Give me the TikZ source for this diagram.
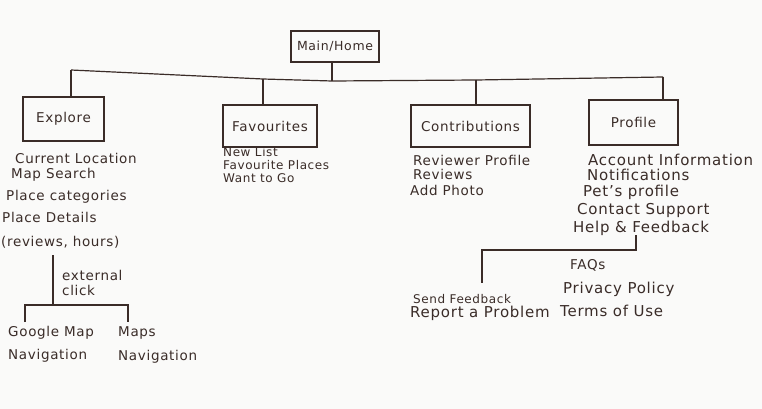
\documentclass[tikz,border=0pt]{standalone}
\usepackage{fontspec}
\setmainfont{DejaVu Sans}[LetterSpace=5]
\definecolor{ink}{RGB}{58,44,40}
\definecolor{paper}{RGB}{250,250,249}

\tikzset{
  pagebox/.style={draw=ink, line width=1.2pt, text=ink, inner sep=0pt,
    font=\fontsize{13.5}{15}\selectfont},
  item/.style={anchor=west, text=ink, inner sep=0pt, font=\fontsize{13.5}{15}\selectfont},
  bigitem/.style={item, font=\fontsize{15}{17}\selectfont},
  smallitem/.style={item, font=\fontsize{12}{13}\selectfont},
  link/.style={draw=ink, line width=1.2pt},
}

\begin{document}
\begin{tikzpicture}[x=1pt, y=-1pt]
    % paper
    \fill[paper] (0,0) rectangle (762,409);
    \useasboundingbox (0,0) rectangle (762,409);

    % top level pages
    \node[pagebox, font=\fontsize{12.5}{14}\selectfont, minimum width=88pt, minimum height=31pt] (home) at (335,46.5) {Main/Home};
    \node[pagebox, minimum width=81pt, minimum height=44pt] (explore) at (63.5,119) {Explore};
    \node[pagebox, minimum width=94pt, minimum height=42pt] (fav) at (270,126) {Favourites};
    \node[pagebox, minimum width=119pt, minimum height=42pt] (contrib) at (470.5,126) {Contributions};
    \node[pagebox, minimum width=89pt, minimum height=45pt] (profile) at (633.5,122.5) {Profile};

    % bus
    \coordinate (bus-explore) at (71,70);
    \coordinate (bus-fav) at (263,79);
    \coordinate (bus-home) at (332,81);
    \coordinate (bus-contrib) at (476,80);
    \coordinate (bus-profile) at (663,77);
    \draw[link] (bus-explore) -- (bus-fav) -- (bus-home) -- (bus-contrib) -- (bus-profile);
    \draw[link] (home.south -| bus-home) -- (bus-home);
    \draw[link] (bus-explore) -- (bus-explore |- explore.north);
    \draw[link] (bus-fav) -- (bus-fav |- fav.north);
    \draw[link] (bus-contrib) -- (bus-contrib |- contrib.north);
    \draw[link] (bus-profile) -- (bus-profile |- profile.north);

    % Explore
    \node[item] (ex-loc) at (15,158) {Current Location};
    \node[item] (ex-map) at (11,175) {Map Search};
    \node[item] (ex-cat) at (6,197) {Place categories};
    \node[item] (ex-det) at (2,217) {Place Details};
    \node[item] (ex-rev) at (1,242) {(reviews, hours)};

    % Favourites
    \node[smallitem] (fav-new) at (223,152) {New List};
    \node[smallitem] (fav-places) at (223,165) {Favourite Places};
    \node[smallitem] (fav-go) at (223,178) {Want to Go};

    % Contributions
    \node[item] (co-prof) at (413,160) {Reviewer Profile};
    \node[item] (co-rev) at (413,174) {Reviews};
    \node[item] (co-photo) at (410,190) {Add Photo};

    % Profile
    \node[bigitem] (pr-acc) at (588,160) {Account Information};
    \node[bigitem] (pr-not) at (587,175) {Notifications};
    \node[bigitem] (pr-pet) at (583,192) {Pet's profile};
    \node[bigitem] (pr-sup) at (577,210) {Contact Support};
    \node[bigitem] (help) at (573,228) {Help \& Feedback};

    % Help & Feedback children
    \node[item] (faq) at (570,265) {FAQs};
    \node[bigitem] (privacy) at (563,289) {Privacy Policy};
    \node[bigitem] (terms) at (560,311) {Terms of Use};
    \node[smallitem] (send) at (413,299) {Send Feedback};
    \node[bigitem] (report) at (410,313) {Report a Problem};
    \coordinate (help-drop) at (636,250);
    \coordinate (send-drop) at (482,250);
    \coordinate (send-top) at (482,283);
    \draw[link] (help-drop |- help.south) -- (help-drop) -- (send-drop) -- (send-top);

    % external links from Explore
    \node[item, align=left] (ext) at (62,283) {external\\ click};
    \node[item] (gmap) at (8,333) {Google Map};
    \node[item] (gnav) at (8,356) {Navigation};
    \node[item] (amap) at (118,333) {Maps};
    \node[item] (anav) at (118,357) {Navigation};
    \coordinate (ext-top) at (53,255);
    \coordinate (ext-fork) at (53,305);
    \coordinate (gmap-top) at (25,322);
    \coordinate (amap-top) at (128,322);
    \draw[link] (ext-top) -- (ext-fork);
    \draw[link] (gmap-top) |- (ext-fork) -| (amap-top);
\end{tikzpicture}
\end{document}
